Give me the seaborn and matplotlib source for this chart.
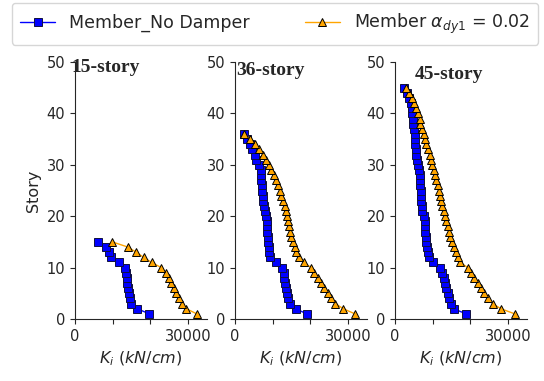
import numpy as np
import pandas as pd
import matplotlib
matplotlib.use("Agg")
import matplotlib.pyplot as plt
import seaborn as sns

# ---------------- data ----------------
titles = ["15-story", "36-story", "45-story"]

k15_nodamper = [19700, 16500, 14900, 14500, 14300, 14000, 13800, 13700, 13600, 13300,
                11600, 9500, 9000, 8100, 6100]
k15_damper = [32300, 29500, 28500, 27700, 26800, 26200, 25500, 24800, 24000, 22900,
              20300, 18200, 16200, 14000, 9900]

k36_nodamper = [19000, 16100, 14500, 14000, 13700, 13500, 13300, 13100, 12900, 12400,
                10800, 9200, 9000, 8900, 8800, 8700, 8600, 8500, 8400, 8200,
                7900, 7700, 7500, 7300, 7200, 7100, 7000, 6900, 6800, 6400,
                5700, 5200, 4600, 4000, 3300, 2400]
k36_damper = [31800, 28700, 26600, 25400, 24600, 23700, 22800, 21900, 21000, 20200,
              18200, 16900, 16200, 15800, 15400, 14900, 14600, 14300, 14000, 13900,
              13600, 13200, 12700, 12300, 11800, 11500, 11000, 10400, 9600, 9000,
              8300, 7500, 6400, 5300, 4100, 2400]

k45_nodamper = [18860, 15530, 14740, 14300, 13950, 13600, 13250, 12890, 12540, 11840,
                10090, 9040, 8770, 8510, 8330, 8160, 8070, 7980, 7890, 7720,
                7280, 7110, 7020, 6930, 6840, 6750, 6670, 6580, 6400, 6230,
                5960, 5700, 5530, 5350, 5260, 5180, 5000, 4820, 4650, 4560,
                4390, 4120, 3770, 3250, 2460]
k45_damper = [31750, 28070, 25880, 24740, 23680, 22810, 21930, 21050, 20180, 19300,
              17280, 16670, 16050, 15530, 15000, 14650, 14300, 13950, 13600, 13250,
              12890, 12540, 12280, 12020, 11670, 11400, 10960, 10610, 10260, 9910,
              9650, 9210, 8770, 8330, 7980, 7630, 7110, 6750, 6580, 6140,
              5700, 5000, 4390, 3770, 2890]

series_names = ["Member_No Damper", r"Member $\alpha_{dy1}$ = 0.02"]
xticks = [0, 10000, 20000, 30000]
xticklabels = ["0", "", "", "30000"]
yticks = [0, 10, 20, 30, 40, 50]

panels = [(k15_nodamper, k15_damper), (k36_nodamper, k36_damper), (k45_nodamper, k45_damper)]

# ---------------- figure ----------------
sns.set_style("ticks")
plt.rcParams['font.family'] = ['DejaVu Sans']
W, H = 544, 381
fig = plt.figure(figsize=(W / 100, H / 100), dpi=100)

lefts = [75, 235, 395]
ax_w, ax_top, ax_bot = 132, 62, 319
title_pos = [(71, 72), (236, 75), (415, 79)]

colors = ["blue", "orange"]
edgecolors = ["#101040", "black"]
markers = ["s", "^"]
msizes = [6, 5.5]

for i, (nd, dm) in enumerate(panels):
    ax = fig.add_axes([lefts[i] / W, (H - ax_bot) / H, ax_w / W, (ax_bot - ax_top) / H])
    for j, vals in enumerate([nd, dm]):
        df = pd.DataFrame({"K": vals, "Story": np.arange(1, len(vals) + 1)})
        sns.lineplot(data=df, x="K", y="Story", sort=False, estimator=None, ax=ax,
                     color=colors[j], marker=markers[j], markersize=msizes[j],
                     markeredgecolor=edgecolors[j], markeredgewidth=0.7, linewidth=1.0,
                     label=series_names[j] if i == 0 else None, legend=False)
    ax.set_xlim(0, 35000)
    ax.set_ylim(0, 50)
    ax.set_xticks(xticks)
    ax.set_xticklabels(xticklabels)
    ax.set_yticks(yticks)
    ax.tick_params(labelsize=10.5)
    ax.set_xlabel(r"$K_i\ (kN/cm)$", fontsize=11.5)
    ax.set_ylabel("Story" if i == 0 else "", fontsize=11.5)
    sns.despine(ax=ax)
    tx, ty = title_pos[i]
    fig.text(tx / W, 1 - ty / H, titles[i], fontsize=14, fontweight="bold",
             family="Liberation Serif", va="baseline", ha="left")
    if i == 0:
        handles, labels = ax.get_legend_handles_labels()

fig.legend(handles, labels, loc="upper center", bbox_to_anchor=(275 / W, 1 - 3 / H), ncol=2,
           fontsize=12.5, frameon=True, columnspacing=3.2, borderpad=0.5,
           borderaxespad=0)

fig.savefig("out.png", dpi=100)
